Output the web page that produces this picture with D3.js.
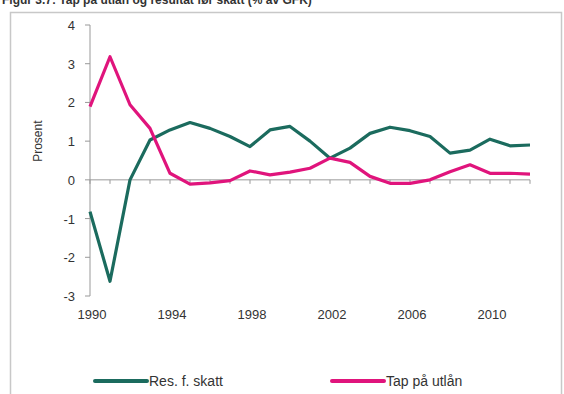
<!DOCTYPE html>
<html>
<head>
<meta charset="utf-8">
<script src="https://cdn.jsdelivr.net/npm/d3@7"></script>
<style>
  body { margin: 0; background: #fff; }
  svg { display: block; font-family: "Liberation Sans", Arial, sans-serif; }
</style>
</head>
<body>
<svg id="chart" width="564" height="394"></svg>
<script>
// data
var years   = d3.range(1990, 2013);
var resSkatt = [-0.82, -2.62, 0.0, 1.03, 1.29, 1.48, 1.33, 1.12, 0.86, 1.29, 1.38, 1.0,
                0.56, 0.82, 1.2, 1.36, 1.27, 1.12, 0.69, 0.77, 1.05, 0.88, 0.9];
var tapUtlan = [1.89, 3.18, 1.94, 1.33, 0.17, -0.11, -0.08, -0.02, 0.23, 0.13, 0.2, 0.3,
                0.56, 0.45, 0.09, -0.09, -0.09, 0.0, 0.21, 0.39, 0.17, 0.17, 0.15];
var yTicks  = [-3, -2, -1, 0, 1, 2, 3, 4];
var xLabels = [1990, 1994, 1998, 2002, 2006, 2010];
var seriesNames = ["Res. f. skatt", "Tap på utlån"];
var colors  = ["#1b6b5e", "#e0147c"];

var svg = d3.select("#chart");

// clipped title and frame
svg.append("text").attr("x", 2).attr("y", 4)
   .text("Figur 3.7: Tap på utlån og resultat før skatt (% av GFK)")
   .style("font-size", "12px").style("font-weight", "bold").style("fill", "#333");
svg.append("rect").attr("x", 10.5).attr("y", 12.5).attr("width", 551).attr("height", 400)
   .style("fill", "none").style("stroke", "#c8c8c8").style("stroke-width", 1.5);

var x = d3.scaleLinear().domain([1990, 2012]).range([90, 530]);
var y = d3.scaleLinear().domain([-3, 4]).range([296, 25]);

// y axis
svg.append("line").attr("x1", x(1990)).attr("x2", x(1990)).attr("y1", y(4)).attr("y2", y(-3))
   .style("stroke", "#999").style("stroke-width", 1);
yTicks.forEach(function(t) {
  svg.append("line").attr("x1", x(1990) - 5).attr("x2", x(1990)).attr("y1", y(t)).attr("y2", y(t))
     .style("stroke", "#999");
  svg.append("text").attr("x", 75).attr("y", y(t) + 5).text(t)
     .style("font-size", "13px").style("fill", "#333").style("text-anchor", "end");
});
svg.append("text").attr("transform", "translate(42," + y(1) + ") rotate(-90)")
   .text("Prosent").style("font-size", "12px").style("fill", "#333").style("text-anchor", "middle");

// x axis on zero line
svg.append("line").attr("x1", x(1990)).attr("x2", x(2012)).attr("y1", y(0)).attr("y2", y(0))
   .style("stroke", "#999");
years.forEach(function(yr) {
  svg.append("line").attr("x1", x(yr)).attr("x2", x(yr)).attr("y1", y(0)).attr("y2", y(0) + 4)
     .style("stroke", "#999");
});
xLabels.forEach(function(yr) {
  svg.append("text").attr("x", x(yr) + 2).attr("y", 319).text(yr)
     .style("font-size", "13px").style("fill", "#333").style("text-anchor", "middle");
});

// lines
var line = d3.line().x(function(d, i) { return x(years[i]); }).y(function(d) { return y(d); });
[resSkatt, tapUtlan].forEach(function(s, k) {
  svg.append("path").datum(s).attr("d", line)
     .style("fill", "none").style("stroke", colors[k]).style("stroke-width", 3.2)
     .style("stroke-linejoin", "round");
});

// legend
var legX = [95, 332];
seriesNames.forEach(function(n, k) {
  svg.append("line").attr("x1", legX[k]).attr("x2", legX[k] + 52).attr("y1", 381).attr("y2", 381)
     .style("stroke", colors[k]).style("stroke-width", 4).style("stroke-linecap", "round");
  svg.append("text").attr("x", legX[k] + 54).attr("y", 386).text(n)
     .style("font-size", "14px").style("fill", "#333");
});
</script>
</body>
</html>
